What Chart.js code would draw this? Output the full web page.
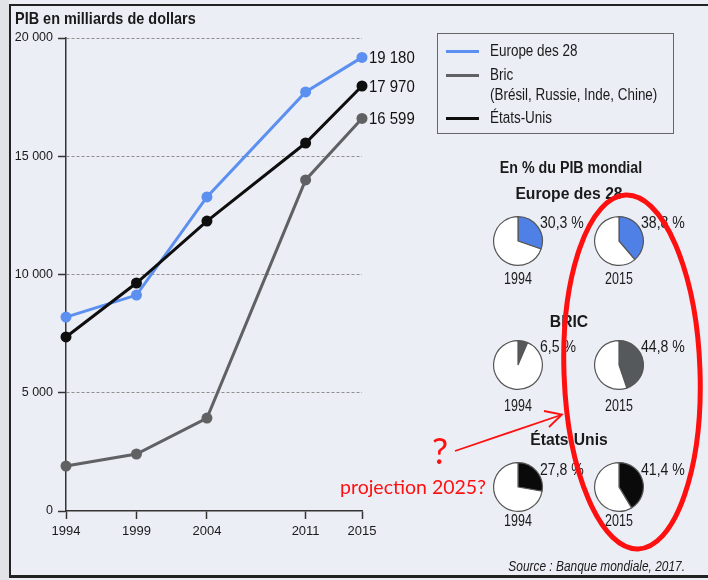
<!DOCTYPE html>
<html><head><meta charset="utf-8">
<script src="https://cdn.jsdelivr.net/npm/chart.js@4"></script>
<style>
html,body{margin:0;padding:0;}
body{width:708px;height:580px;background:#eceef6;position:relative;overflow:hidden;font-family:"Liberation Sans",sans-serif;color:#1a1a1a;}
#strip{position:absolute;left:0;top:0;width:9px;height:580px;background:#e2e3e6;}
#frame{position:absolute;left:9px;top:4px;width:720px;height:569px;border-left:2px solid #222;border-top:2px solid #222;border-bottom:3px solid #222;}
#main{position:absolute;left:0;top:0;}
.t{position:absolute;white-space:nowrap;line-height:1;}
#legend{position:absolute;left:437px;top:33px;width:235px;height:99px;border:1px solid #666;}
svg{position:absolute;left:0;top:0;}
</style></head>
<body>
<div id="strip"></div>
<div id="frame"></div>
<canvas id="main" width="708" height="580"></canvas>
<div id="legend"></div>
<div id="overlay"></div>
<svg width="708" height="580" id="ann"></svg>
<script>
// ---- data ----
const years = [1994, 1999, 2004, 2011, 2015];
const europe = [8200, 9130, 13280, 17720, 19180];
const bric = [1900, 2410, 3930, 14000, 16599];
const usa = [7360, 9640, 12260, 15560, 17970];
const seriesNames = ['Europe des 28', 'Bric', 'États-Unis'];
const bricNote = '(Brésil, Russie, Inde, Chine)';
const yTicks = [0, 5000, 10000, 15000, 20000];
const chartTitle = 'PIB en milliards de dollars';
const pieTitle = 'En % du PIB mondial';
const pieYears = ['1994', '2015'];
const pieGroups = ['Europe des 28', 'BRIC', 'États-Unis'];
const pieEurope = [30.3, 38.8];
const pieBric = [6.5, 44.8];
const pieUsa = [27.8, 41.4];
const sourceText = 'Source : Banque mondiale, 2017.';
const noteQ = '?';
const noteText = 'projection 2025?';

// ---- styles ----
const F = '"Liberation Sans",sans-serif';
const colors = ['#5b8ff0', '#5f6163', '#0e0e0e'];
const pieColors = ['#4f80e6', '#55595c', '#0a0a0a'];

const fmt = v => String(v).replace(/\B(?=(\d{3})+(?!\d))/g, ' ');

function txt(parent, s, x, y, css, align, sx) {
  const d = document.createElement('div');
  d.className = 't';
  d.textContent = s;
  Object.assign(d.style, css || {});
  d.style.left = x + 'px'; d.style.top = y + 'px';
  const k = sx || 1;
  if (align === 'c') { d.style.transform = 'translate(-50%,-50%) scaleX(' + k + ')'; d.style.transformOrigin = 'center center'; }
  else if (align === 'r') { d.style.transform = 'translate(-100%,-50%) scaleX(' + k + ')'; d.style.transformOrigin = 'right center'; }
  else { d.style.transform = 'translateY(-50%) scaleX(' + k + ')'; d.style.transformOrigin = 'left center'; }
  parent.appendChild(d);
  return d;
}

const series = [europe, bric, usa];
const endLabels = {
  id: 'endLabels',
  afterDatasetsDraw(chart) {
    const ctx = chart.ctx;
    ctx.save();
    ctx.font = '17px ' + F;
    ctx.fillStyle = '#111';
    ctx.textBaseline = 'middle';
    chart.data.datasets.forEach((ds, i) => {
      const meta = chart.getDatasetMeta(i);
      const p = meta.data[meta.data.length - 1];
      const v = ds.data[ds.data.length - 1].y;
      ctx.save();
      ctx.translate(p.x + 7, p.y + 1);
      ctx.scale(0.88, 1);
      ctx.fillText(fmt(v), 0, 0);
      ctx.restore();
    });
    ctx.restore();
  }
};

new Chart(document.getElementById('main'), {
  type: 'line',
  data: {
    datasets: series.map((s, i) => ({
      label: seriesNames[i],
      data: s.map((v, j) => ({x: years[j], y: v})),
      borderColor: colors[i],
      backgroundColor: colors[i],
      pointBackgroundColor: colors[i],
      pointBorderWidth: 0,
      pointRadius: 5.5,
      borderWidth: 3,
      tension: 0,
      clip: false,
      order: i === 1 ? 3 : i === 0 ? 2 : 1
    }))
  },
  options: {
    responsive: false,
    animation: false,
    devicePixelRatio: 1,
    layout: {padding: {top: 38, left: 0, right: 346, bottom: 0}},
    plugins: {legend: {display: false}, tooltip: {enabled: false}},
    scales: {
      x: {
        type: 'linear', min: 1994, max: 2015,
        afterBuildTicks: s => { s.ticks = years.map(v => ({value: v})); },
        afterFit: s => { s.height = 69; },
        ticks: {color: '#1a1a1a', font: {family: F, size: 13}, padding: 5, maxRotation: 0, autoSkip: false, callback: v => String(v)},
        grid: {drawOnChartArea: false, drawTicks: true, tickLength: 8, tickColor: '#333', tickWidth: 1.5},
        border: {color: '#333', width: 1.5}
      },
      y: {
        min: 0, max: 20000,
        afterBuildTicks: s => { s.ticks = yTicks.map(v => ({value: v})); },
        afterFit: s => { s.width = 66; },
        ticks: {color: '#1a1a1a', font: {family: F, size: 12.5}, padding: 5, callback: v => fmt(v)},
        grid: {
          color: c => c.tick && c.tick.value === 0 ? 'rgba(0,0,0,0)' : '#8f8f8f',
          lineWidth: 1, drawTicks: true, tickLength: 8, tickColor: '#333', tickWidth: 1.5, tickBorderDash: []
        },
        border: {color: '#333', width: 1.5, dash: [3, 2]}
      }
    }
  },
  plugins: [endLabels]
});

const ov = document.getElementById('overlay');
txt(ov, chartTitle, 15, 18, {fontFamily: F, fontWeight: 'bold', fontSize: '17px'}, 'l', 0.85);

// legend
const lg = document.getElementById('legend');
const legRows = [17, 41, 84];
seriesNames.forEach((n, i) => {
  const l = document.createElement('div');
  Object.assign(l.style, {position: 'absolute', left: '8px', top: (legRows[i] - 1.5) + 'px', width: '33px', height: '3px', background: colors[i]});
  lg.appendChild(l);
  txt(lg, n, 52, legRows[i], {fontFamily: F, fontSize: '16px'}, 'l', 0.84);
});
txt(lg, bricNote, 52, 61, {fontFamily: F, fontSize: '16px'}, 'l', 0.84);

// pies
txt(ov, pieTitle, 571, 168, {fontFamily: F, fontWeight: 'bold', fontSize: '16px'}, 'c', 0.89);
const pieData = [pieEurope, pieBric, pieUsa];
const groupY = [{h: 194, p: 241, yr: 279, pc: 223}, {h: 322, p: 365, yr: 406, pc: 347}, {h: 440, p: 487, yr: 521, pc: 470}];
const pieX = [518, 619];
pieData.forEach((vals, g) => {
  const Y = groupY[g];
  txt(ov, pieGroups[g], 569, Y.h, {fontFamily: F, fontWeight: 'bold', fontSize: '16px'}, 'c', 0.98);
  vals.forEach((v, k) => {
    const c = document.createElement('canvas');
    c.width = 52; c.height = 52;
    Object.assign(c.style, {position: 'absolute', left: (pieX[k] - 26) + 'px', top: (Y.p - 26) + 'px'});
    ov.appendChild(c);
    new Chart(c, {
      type: 'pie',
      data: {labels: ['part', 'reste'], datasets: [{data: [v, 100 - v], backgroundColor: [pieColors[g], '#ffffff'], borderColor: '#555', borderWidth: 1.2}]},
      options: {responsive: false, animation: false, devicePixelRatio: 1, layout: {padding: 1}, plugins: {legend: {display: false}, tooltip: {enabled: false}}}
    });
    txt(ov, String(v).replace('.', ',') + ' %', pieX[k] + 22, Y.pc, {fontFamily: F, fontSize: '16px'}, 'l', 0.88);
    txt(ov, pieYears[k], pieX[k], Y.yr, {fontFamily: F, fontSize: '16px'}, 'c', 0.78);
  });
});
txt(ov, sourceText, 685, 566, {fontFamily: F, fontStyle: 'italic', fontSize: '14px'}, 'r', 0.85);

// red annotations
const red = '#ff1010';
txt(ov, noteQ, 440, 450, {fontFamily: 'Lato, "Open Sans", sans-serif', fontSize: '36px', color: red}, 'c');
txt(ov, noteText, 340, 487, {fontFamily: 'Lato, "Open Sans", sans-serif', fontSize: '19.5px', color: red});
document.getElementById('ann').innerHTML =
  '<ellipse cx="632" cy="372" rx="68" ry="177" transform="rotate(-2 632 372)" fill="none" stroke="' + red + '" stroke-width="5"/>' +
  '<line x1="455" y1="451" x2="561" y2="415" stroke="' + red + '" stroke-width="1.8"/>' +
  '<polyline points="544,411 562,414.5 549,427" fill="none" stroke="' + red + '" stroke-width="1.8"/>';
</script>
</body></html>
